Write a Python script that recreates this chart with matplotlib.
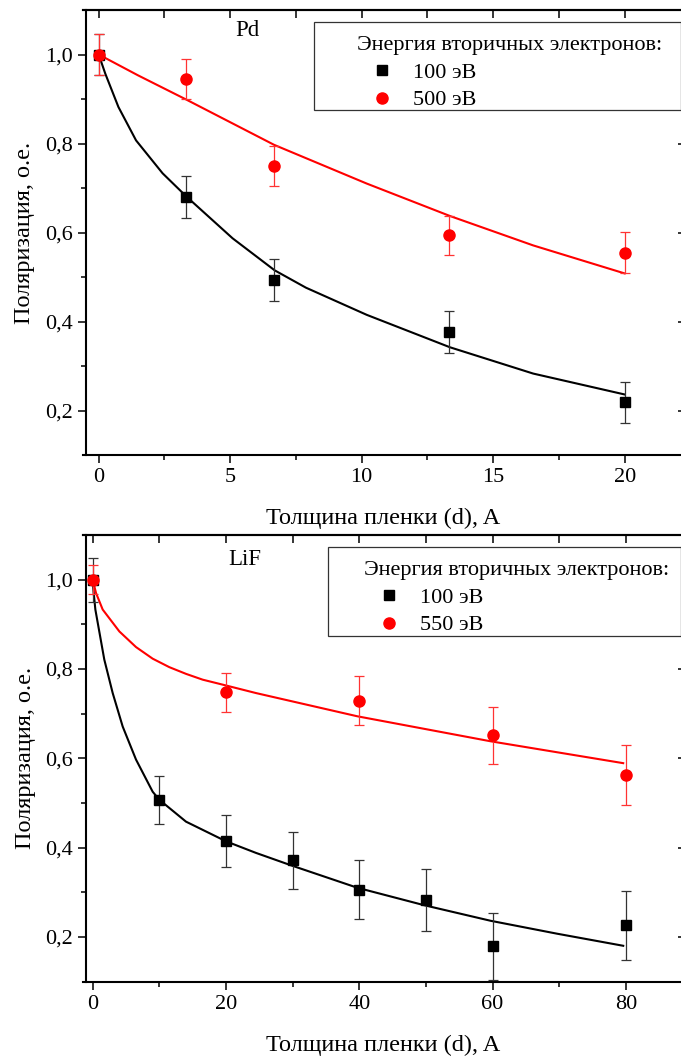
import matplotlib
matplotlib.use('Agg')
import matplotlib.pyplot as plt
from matplotlib.patches import Rectangle
from matplotlib.ticker import FixedLocator, FuncFormatter

plt.rcParams['font.family'] = ['Liberation Serif', 'DejaVu Serif']
plt.rcParams['font.size'] = 16

# --- Pd ---
pd_x = [0, 3.33, 6.67, 13.33, 20]
pd_100 = [1.0, 0.68, 0.493, 0.376, 0.218]
pd_100_err = [0.047, 0.047, 0.047, 0.047, 0.047]
pd_500 = [1.0, 0.944, 0.75, 0.594, 0.555]
pd_500_err = [0.046, 0.045, 0.045, 0.044, 0.046]

# fit curves
pd_fit100_x = [0, 0.25, 0.75, 1.42, 2.43, 3.35, 5.09, 6.69, 7.88, 10.19, 13.36, 16.52, 20.0]
pd_fit100_y = [1.0, 0.957, 0.882, 0.807, 0.733, 0.680, 0.587, 0.515, 0.476, 0.415, 0.342, 0.283, 0.236]
pd_fit500_x = [0, 1.5, 3.32, 6.67, 10.19, 13.36, 16.52, 20.0]
pd_fit500_y = [1.0, 0.953, 0.899, 0.797, 0.71, 0.637, 0.571, 0.508]

# --- LiF ---
lif_x100 = [0, 10, 20, 30, 40, 50, 60, 80]
lif_100 = [1.0, 0.506, 0.414, 0.371, 0.305, 0.282, 0.179, 0.226]
lif_100_err = [0.049, 0.054, 0.058, 0.063, 0.066, 0.07, 0.075, 0.077]
lif_x550 = [0, 20, 40, 60, 80]
lif_550 = [1.0, 0.748, 0.729, 0.651, 0.563]
lif_550_err = [0.032, 0.044, 0.055, 0.063, 0.067]

lif_fit100_x = [0, 0.15, 0.4, 1.74, 3.0, 4.5, 6.5, 9.0, 10.0, 14.0, 20.0,
                24.5, 29.8, 39.7, 49.7, 59.7, 69.7, 79.6]
lif_fit100_y = [1.0, 0.970, 0.933, 0.821, 0.746, 0.671, 0.597, 0.525, 0.507,
                0.458, 0.414, 0.388, 0.360, 0.310, 0.271, 0.236, 0.207, 0.180]
lif_fit550_x = [0, 0.5, 1.5, 4.0, 6.5, 9.0, 11.5, 14.0, 16.5, 20.0, 24.5, 39.7, 59.7, 79.6]
lif_fit550_y = [1.0, 0.970, 0.933, 0.884, 0.849, 0.823, 0.804, 0.789, 0.776, 0.763, 0.746,
                0.694, 0.638, 0.589]

legend_title = 'Энергия вторичных электронов:'
x_label = 'Толщина пленки (d), A'
y_label = 'Поляризация, о.е.'

W, H = 681, 1057


def fx(px):
    return px / W


def fy(py):
    return 1 - py / H


fig = plt.figure(figsize=(W / 100, H / 100), dpi=100)


def panel(top_px, bot_px, xlim, spine_x, xmaj, xmin, xtop,
          xa, ya, ea, fa, xb, yb, eb, fb, labels, name, name_pos, box, leg_pos):
    ax = fig.add_axes([fx(82.5), fy(bot_px), fx(684) - fx(82.5), (bot_px - top_px) / H])
    ax.spines['left'].set_position(('data', spine_x))
    for s in ax.spines.values():
        s.set_linewidth(1.5)

    ax.plot(fa[0], fa[1], color='black', lw=1.5, zorder=2)
    ax.plot(fb[0], fb[1], color='red', lw=1.5, zorder=2)
    e1 = ax.errorbar(xa, ya, yerr=ea, fmt='s', color='black', ms=7.2, ecolor='#333333',
                     elinewidth=0.9, capsize=3.6, capthick=0.9, zorder=3)
    e2 = ax.errorbar(xb, yb, yerr=eb, fmt='o', color='red', ms=8, ecolor='#ff3333',
                     elinewidth=0.9, capsize=3.6, capthick=0.9, zorder=3)

    ax.set_xlim(*xlim)
    ax.set_ylim(0.1, 1.1)
    ax.xaxis.set_major_locator(FixedLocator(xmaj))
    ax.xaxis.set_minor_locator(FixedLocator(xmin))
    ax.yaxis.set_major_locator(FixedLocator([0.2, 0.4, 0.6, 0.8, 1.0]))
    ax.yaxis.set_minor_locator(FixedLocator([0.3, 0.5, 0.7, 0.9]))
    ax.yaxis.set_major_formatter(FuncFormatter(lambda v, p: f'{v:.1f}'.replace('.', ',')))
    ax.tick_params(which='major', direction='out', length=5.5, width=1.1, pad=4,
                   top=False, right=False, labelsize=16)
    ax.tick_params(which='minor', direction='out', length=3.5, width=1.1,
                   top=False, right=False)

    sec = ax.secondary_xaxis('top')
    sec.set_xticks(xtop)
    sec.tick_params(direction='in', length=5.5, width=1.1, labeltop=False)
    sec.spines['top'].set_linewidth(1.5)
    secy = ax.secondary_yaxis('right')
    secy.set_yticks([0.2, 0.4, 0.6, 0.8, 1.0])
    secy.tick_params(direction='in', length=4, width=1.1, labelright=False)

    ax.set_xlabel(x_label, fontsize=17.5, labelpad=15)
    ax.set_ylabel(y_label, fontsize=17.5, labelpad=7)

    ax.text(name_pos[0], name_pos[1], name, transform=ax.transAxes,
            ha='center', va='center', fontsize=16.5)

    ax.add_patch(Rectangle((fx(box[0]), fy(box[3])), fx(box[2]) - fx(box[0]),
                           (box[3] - box[1]) / H, transform=fig.transFigure,
                           fc='white', ec='#333333', lw=0.9, clip_on=False, zorder=4))
    ax.legend(handles=[e1[0], e2[0]], labels=labels, title=legend_title,
              loc='upper left', bbox_to_anchor=(fx(leg_pos[0]), fy(leg_pos[1])),
              bbox_transform=fig.transFigure, frameon=False, borderpad=0,
              borderaxespad=0, handlelength=2.25, handletextpad=0.27,
              labelspacing=0.32, alignment='left', fontsize=16, title_fontsize=16)
    return ax


panel(10, 455, (-0.616, 22.255), -0.48, [0, 5, 10, 15, 20], [2.5, 7.5, 12.5, 17.5],
      [0, 2.5, 5, 7.5, 10, 12.5, 15, 17.5, 20],
      pd_x, pd_100, pd_100_err, (pd_fit100_x, pd_fit100_y),
      pd_x, pd_500, pd_500_err, (pd_fit500_x, pd_fit500_y),
      ['100 эВ', '500 эВ'], 'Pd', (0.2735, 0.955),
      (314, 21.7, 680.5, 110), (357, 36))

panel(535, 981.5, (-1.53, 88.72), -0.96, [0, 20, 40, 60, 80], [10, 30, 50, 70],
      [0, 10, 20, 30, 40, 50, 60, 70, 80],
      lif_x100, lif_100, lif_100_err, (lif_fit100_x, lif_fit100_y),
      lif_x550, lif_550, lif_550_err, (lif_fit550_x, lif_fit550_y),
      ['100 эВ', '550 эВ'], 'LiF', (0.270, 0.946),
      (328, 547, 680.5, 636), (364, 561))

fig.savefig('out.png', dpi=100)
